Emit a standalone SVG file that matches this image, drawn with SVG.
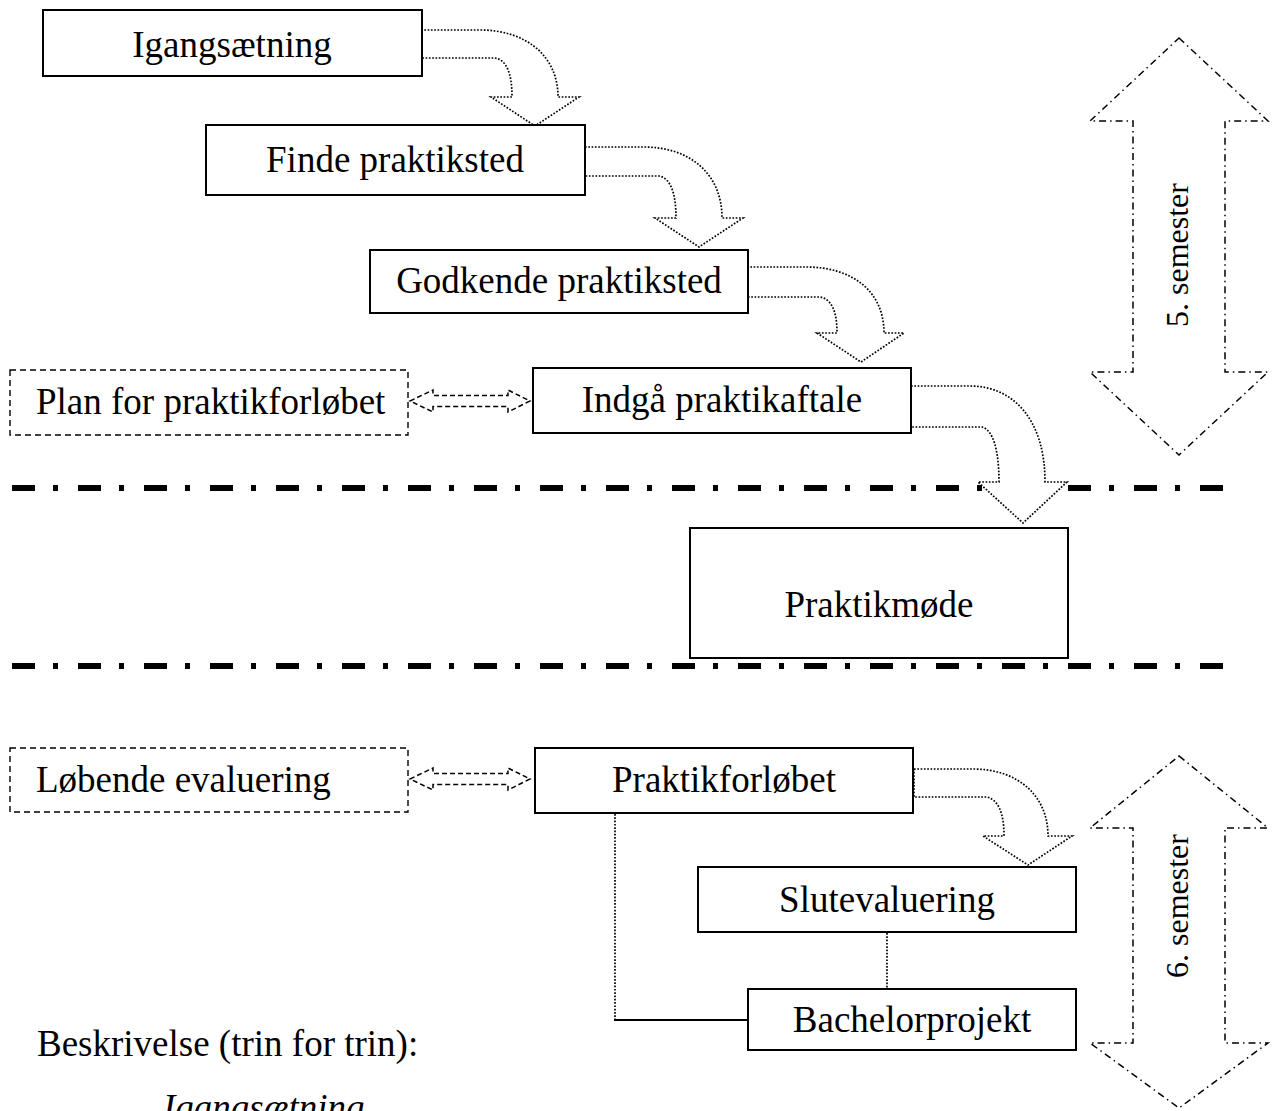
<svg xmlns="http://www.w3.org/2000/svg" width="1275" height="1111" viewBox="0 0 1275 1111">
<style>
text{font-family:"Liberation Serif","Times New Roman",serif;font-size:37px;fill:#000}
.box{fill:#fff;stroke:#000;stroke-width:2}
.dbox{fill:#fff;stroke:#000;stroke-width:1.4;stroke-dasharray:6 4}
.carrow{fill:#fff;stroke:#000;stroke-width:1.7;stroke-dasharray:1.7 1.6}
.darrow{fill:#fff;stroke:#000;stroke-width:1.5;stroke-dasharray:5 3}
.sem{fill:#fff;stroke:#000;stroke-width:1.5;stroke-dasharray:7 4 1.5 4}
.sep{fill:none;stroke:#000;stroke-width:6;stroke-dasharray:23 18 5 20}
.dot{fill:none;stroke:#000;stroke-width:1.7;stroke-dasharray:1.7 1.6}
.sol{fill:none;stroke:#000;stroke-width:2}
.c{text-anchor:middle}
</style>
<g id="separators">
<line class="sep" x1="12" y1="488" x2="1223" y2="488"/>
<line class="sep" x1="12" y1="666" x2="1223" y2="666"/>
</g>
<g id="connectors">
<path class="carrow" d="M421,30 H480 C525,30 558,55 558,97 H579 L535,126 L491,97 H512 C512,72 506,60 495,58 H421 Z"/>
<path class="carrow" d="M585,147 H644 C689,147 722,173 722,218 H743 L699,247 L655,218 H676 C676,192 670,178 659,176 H585 Z"/>
<path class="carrow" d="M747,267 H806 C851,267 884,290 884,333 H904 L861,362 L817,333 H837 C837,310 831,299 820,297 H747 Z"/>
<path class="carrow" d="M911,386 H970 C1012,386 1045,418 1045,482 H1067 L1023,523 L978,482 H999 C999,450 993,430 982,427 H911 Z"/>
<path class="carrow" d="M914,769 H973 C1016,769 1048,794 1048,836 H1072 L1028,865 L983,836 H1004 C1004,812 998,800 987,797 H914 Z"/>
<path class="darrow" d="M410,401 L433,390 V395.5 H508 V390 L530,401 L508,412 V406.5 H433 V412 Z"/>
<path class="darrow" d="M410,779 L433,768 V773.5 H508 V768 L530,779 L508,790 V784.5 H433 V790 Z"/>
<line class="dot" x1="615" y1="814" x2="615" y2="1020"/>
<line class="sol" x1="614" y1="1020" x2="748" y2="1020"/>
<line class="dot" x1="887" y1="933" x2="887" y2="989"/>
</g>
<g id="sem5">
<path class="sem" d="M1179,38 L1268,121 H1225 V372 H1268 L1179,455 L1090,372 H1133 V121 H1090 Z"/>
<text transform="translate(1188,255) rotate(-90)" class="c" style="font-size:32px">5. semester</text>
</g>
<g id="sem6">
<path class="sem" d="M1179,756 L1268,828 H1225 V1043 H1268 L1179,1108 L1090,1043 H1133 V828 H1090 Z"/>
<text transform="translate(1188,906) rotate(-90)" class="c" style="font-size:32px">6. semester</text>
</g>
<g id="n-igang"><rect class="box" x="43" y="10" width="379" height="66"/><text class="c" x="232" y="57">Igangsætning</text></g>
<g id="n-finde"><rect class="box" x="206" y="125" width="379" height="70"/><text class="c" x="395" y="172">Finde praktiksted</text></g>
<g id="n-godkende"><rect class="box" x="370" y="250" width="378" height="63"/><text class="c" x="559" y="293">Godkende praktiksted</text></g>
<g id="n-plan"><rect class="dbox" x="10" y="370" width="398" height="65"/><text x="36" y="414">Plan for praktikforløbet</text></g>
<g id="n-indgaa"><rect class="box" x="533" y="368" width="378" height="65"/><text class="c" x="722" y="412">Indgå praktikaftale</text></g>
<g id="n-praktikmoede"><rect class="box" x="690" y="528" width="378" height="130"/><text class="c" x="879" y="617">Praktikmøde</text></g>
<g id="n-loebende"><rect class="dbox" x="10" y="748" width="398" height="64"/><text x="36" y="792">Løbende evaluering</text></g>
<g id="n-praktikforloeb"><rect class="box" x="535" y="748" width="378" height="65"/><text class="c" x="724" y="792">Praktikforløbet</text></g>
<g id="n-slut"><rect class="box" x="698" y="867" width="378" height="65"/><text class="c" x="887" y="912">Slutevaluering</text></g>
<g id="n-bachelor"><rect class="box" x="748" y="989" width="328" height="61"/><text class="c" x="912" y="1032">Bachelorprojekt</text></g>
<g id="description">
<text x="37" y="1056">Beskrivelse (trin for trin):</text>
<text x="163" y="1120" style="font-style:italic">Igangsætning</text>
</g>
</svg>
